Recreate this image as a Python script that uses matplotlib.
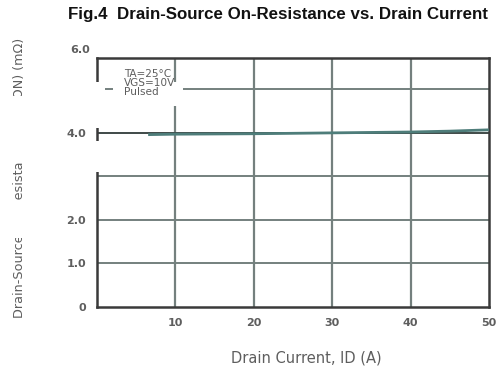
import matplotlib
matplotlib.use("Agg")
import matplotlib.pyplot as plt
from matplotlib.patches import Rectangle

# curve (drain current A, RDS(on) mOhm)
current = [6.7, 10, 20, 30, 40, 45, 50]
rds_on = [3.96, 3.97, 3.98, 4.0, 4.02, 4.04, 4.07]

x_ticks = [10, 20, 30, 40, 50]
y_ticks = [0, 1, 2, 4]
y_tick_labels = ["0", "1.0", "2.0", "4.0"]
x_grid = [10, 20, 30, 40]
y_grid = [1, 2, 3, 4, 5]

W, H = 502, 369
plt.rcParams['font.family'] = ['DejaVu Sans']
grey_txt = '#5e5e5e'
grid_c = '#74807e'

fig = plt.figure(figsize=(W / 100, H / 100), dpi=100)
ax = fig.add_axes([97 / W, (H - 307) / H, 392 / W, 249 / H])
ax.set_xlim(0, 50)
ax.set_ylim(0, 5.72)

for g in x_grid:
    ax.axvline(g, color=grid_c, lw=1.6, zorder=1)
for g in y_grid:
    ax.axhline(g, color=grid_c if g != 4 else '#3f4a48', lw=1.4, zorder=1)

ax.plot(current, rds_on, color='#4e7d7a', lw=2.0, zorder=3)

ax.set_xticks(x_ticks)
ax.set_xticklabels([str(t) for t in x_ticks])
ax.set_yticks(y_ticks)
ax.set_yticklabels(y_tick_labels)
ax.tick_params(length=0, labelsize=8, labelcolor=grey_txt, pad=8)
for lbl in ax.get_xticklabels() + ax.get_yticklabels():
    lbl.set_fontweight('semibold')
for s in ax.spines.values():
    s.set_color('#3a3a3a')
    s.set_linewidth(1.8)

ax.set_xlabel('Drain Current, ID (A)', fontsize=10.5, color=grey_txt)
ax.xaxis.set_label_coords((306 - 97) / 392, -(358 - 307) / 249)
ax.xaxis.label.set_va('center')
fig.text(20 / W, 1 - 177.5 / H, 'Drain-Source On-Resistance, RDS(ON) (m\u03a9)',
         rotation=90, ha='center', va='center', fontsize=9.2, color=grey_txt)
fig.text(90 / W, 1 - 50 / H, '6.0', fontsize=8, fontweight='semibold',
         color=grey_txt, va='center', ha='right')

fig.text(68 / W, 1 - 14 / H, 'Fig.4  Drain-Source On-Resistance vs. Drain Current',
         fontsize=12.2, fontweight='bold', color='#111111', va='center',
         family=['Liberation Sans'])


def white(x0, y0, x1, y1):
    # pixel box, origin top-left
    fig.add_artist(Rectangle((x0 / W, 1 - y1 / H), (x1 - x0) / W, (y1 - y0) / H,
                             transform=fig.transFigure, facecolor='white',
                             edgecolor='none', zorder=10))


# damaged / blanked regions of the original scan
white(88, 82, 105, 128)
white(88, 141, 104, 172)
white(52, 168, 96, 188)
white(113, 85, 183, 100)
white(168, 82, 183, 106)
white(4, 96, 38, 163)
white(4, 200, 38, 238)

fig.text(124 / W, 1 - 83 / H, 'TA=25\u00b0C\nVGS=10V\nPulsed', fontsize=7.6,
         color=grey_txt, va='center', linespacing=0.9, zorder=11)

fig.savefig('out.png', dpi=100)
